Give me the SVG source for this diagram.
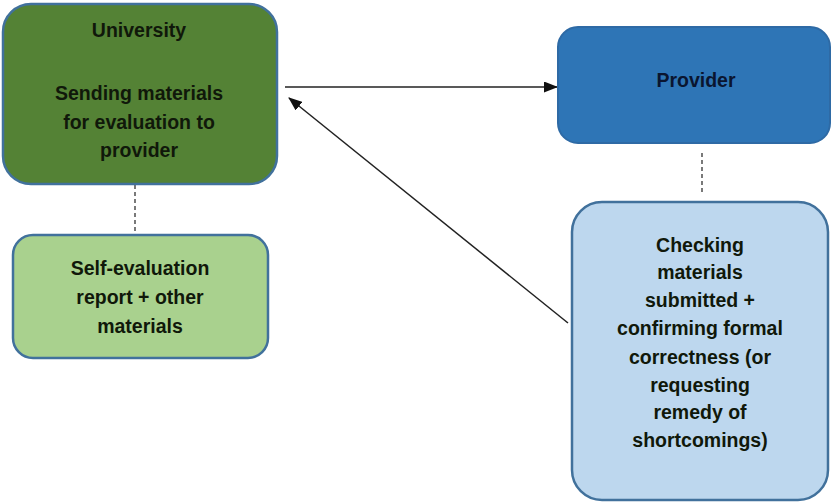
<svg xmlns="http://www.w3.org/2000/svg" width="832" height="503" viewBox="0 0 832 503">
<defs>
<style>
.box{stroke:#41719c;stroke-width:2.5}
.t{font-family:"Liberation Sans",Arial,sans-serif;font-weight:bold;font-size:19.5px;text-anchor:middle;fill:#10180a}
.c{stroke:#222;stroke-width:1.5;fill:none}
.d{stroke:#333;stroke-width:1.3;stroke-dasharray:4,3;fill:none}
</style>
<marker id="ah" markerWidth="14" markerHeight="11" refX="13" refY="5.5" orient="auto" markerUnits="userSpaceOnUse" viewBox="0 0 14 11">
<path d="M0,0 L14,5.5 L0,11 z" fill="#111"/>
</marker>
</defs>
<rect width="832" height="503" fill="#fff"/>
<g id="connectors">
<line class="c" x1="285" y1="87" x2="557" y2="87" marker-end="url(#ah)"/>
<line class="c" x1="568" y1="323" x2="289" y2="98" marker-end="url(#ah)"/>
<line class="d" x1="135" y1="185" x2="135" y2="233"/>
<line class="d" x1="702" y1="153" x2="702" y2="193"/>
</g>
<g id="university">
<rect class="box" x="3" y="4" width="274" height="180" rx="28" fill="#548235"/>
<text class="t" x="139" y="37">University</text>
<text class="t" x="139" y="100">Sending materials</text>
<text class="t" x="139" y="129">for evaluation to</text>
<text class="t" x="139" y="157">provider</text>
</g>
<g id="self-evaluation">
<rect class="box" x="13" y="235" width="255" height="123" rx="20" fill="#a9d18e"/>
<text class="t" x="140" y="275">Self-evaluation</text>
<text class="t" x="140" y="304">report + other</text>
<text class="t" x="140" y="333">materials</text>
</g>
<g id="provider">
<rect x="558" y="27" width="272" height="116" rx="20" fill="#2e75b6" stroke="#2e6aa5" stroke-width="2"/>
<text class="t" x="696" y="87" style="fill:#0a1530">Provider</text>
</g>
<g id="checking">
<rect class="box" x="572" y="202" width="256" height="298" rx="30" fill="#bdd7ee"/>
<text class="t" x="700" y="252">Checking</text>
<text class="t" x="700" y="279">materials</text>
<text class="t" x="700" y="307">submitted +</text>
<text class="t" x="700" y="335">confirming formal</text>
<text class="t" x="700" y="364">correctness (or</text>
<text class="t" x="700" y="392">requesting</text>
<text class="t" x="700" y="419">remedy of</text>
<text class="t" x="700" y="447">shortcomings)</text>
</g>
</svg>
